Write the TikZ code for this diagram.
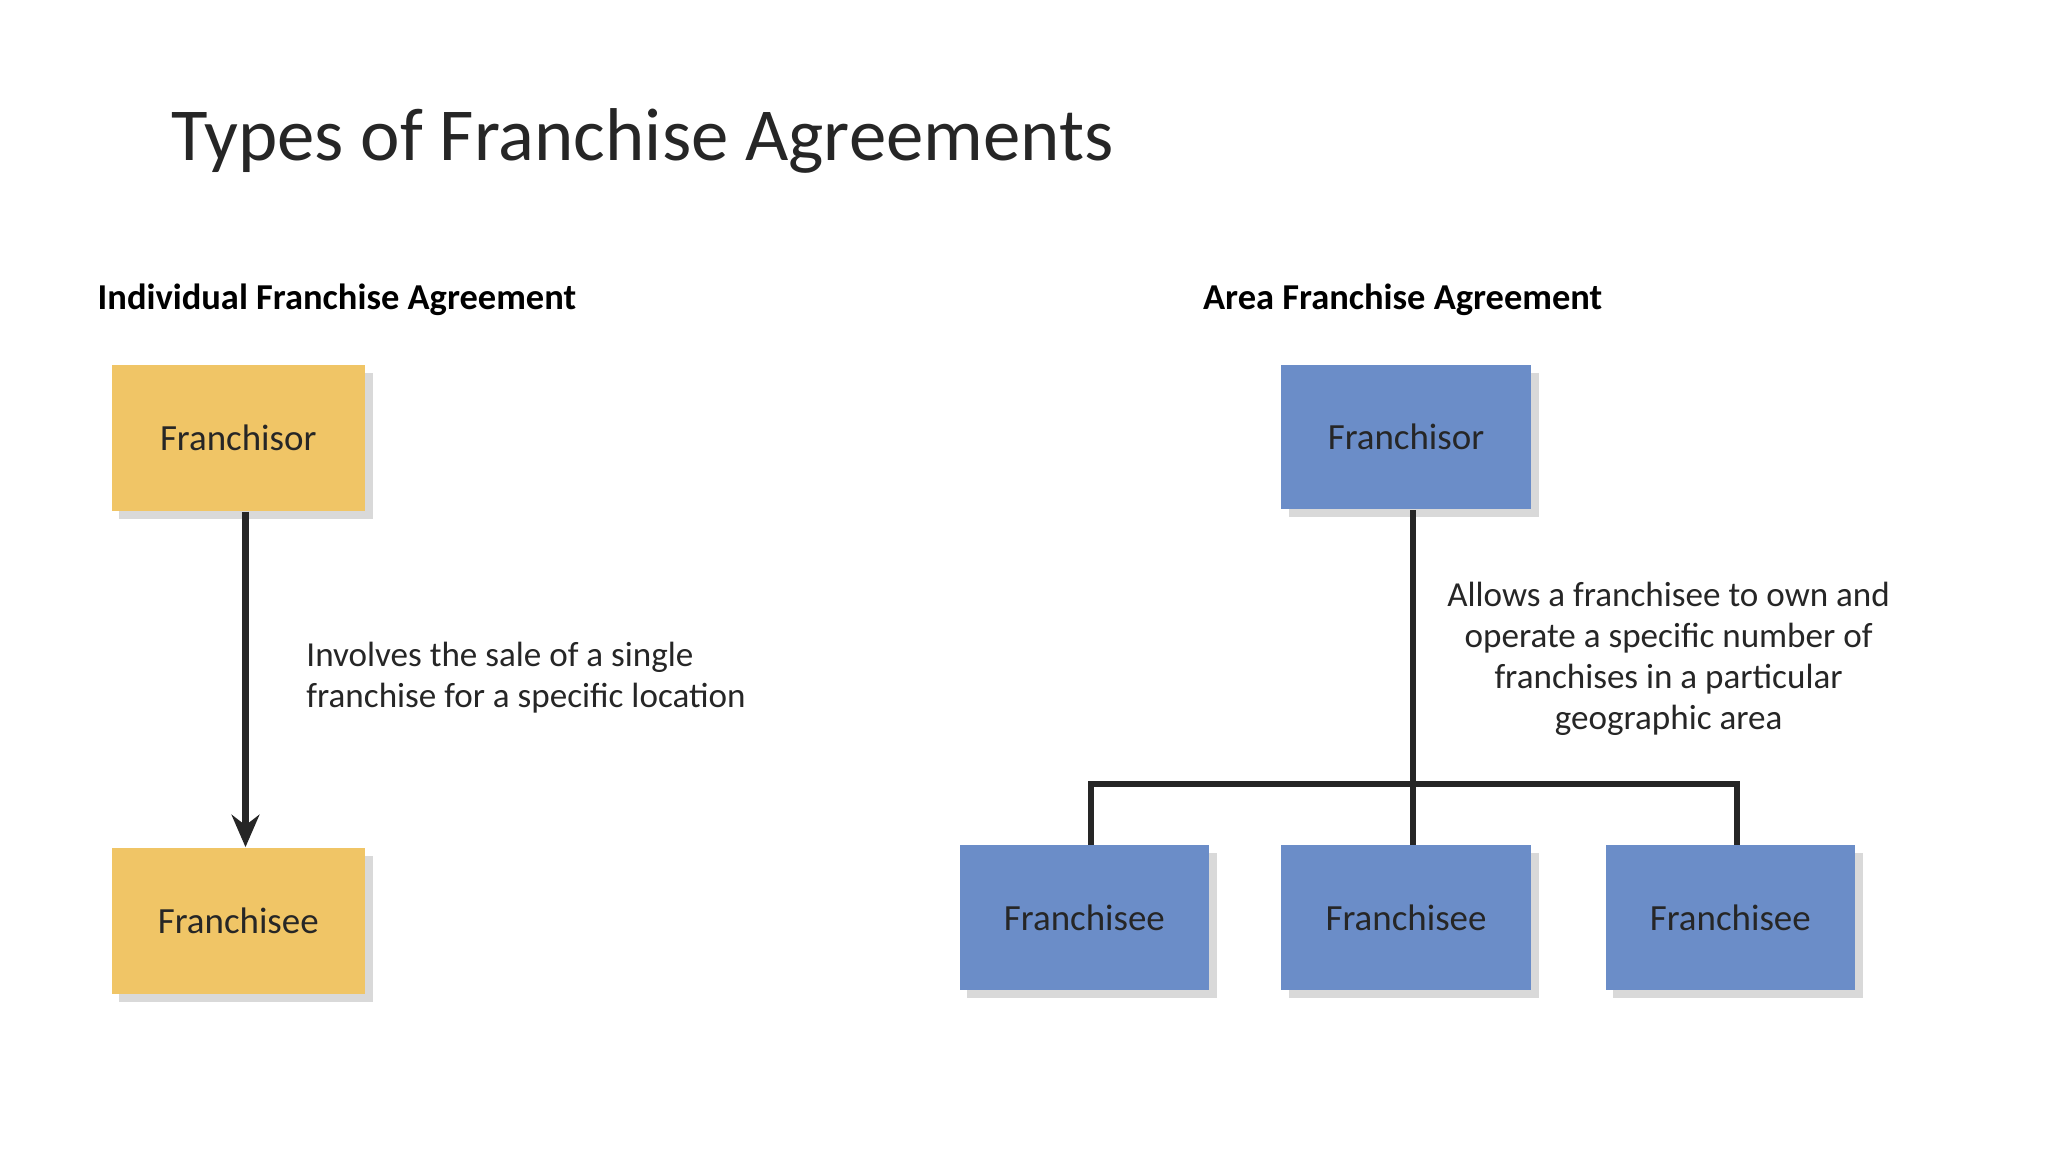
\documentclass[tikz,border=0pt]{standalone}
\usepackage{fontspec}
\setmainfont{Carlito}
\usetikzlibrary{arrows.meta}
\definecolor{gold}{HTML}{F0C566}
\definecolor{blu}{HTML}{6B8DC8}
\tikzset{
  px/.style={x=0.01cm,y=-0.01cm},
  boxy/.style={minimum width=1.93cm,minimum height=1.11cm,inner sep=0pt,font=\fontsize{8}{10}\selectfont,text=black!85,
    preaction={fill=black!15,transform canvas={xshift=0.06cm,yshift=-0.06cm}}},
  ybox/.style={boxy,fill=gold},
  bbox/.style={boxy,fill=blu,minimum width=1.9cm,minimum height=1.1cm},
  conn/.style={line width=1.3pt,black!85},
  note/.style={font=\fontsize{7.6}{8.9}\selectfont,text=black!85}
}
\begin{document}
\begin{tikzpicture}[px]
\useasboundingbox (0,0) rectangle (1560,877.5);
\node[anchor=base west,font=\fontsize{16.2}{20}\selectfont,text=black!85] (title) at (118,122) {Types of Franchise Agreements};
\node[anchor=base west,font=\bfseries\fontsize{7.9}{10}\selectfont] (h1) at (62,236) {Individual Franchise Agreement};
\node[anchor=base west,font=\bfseries\fontsize{7.9}{10}\selectfont] (h2) at (904,236) {Area Franchise Agreement};
\node[ybox] (lf) at (181.5,333.5) {Franchisor};
\node[ybox] (le) at (181.5,701.5) {Franchisee};
\draw[conn,-{Stealth[length=7pt,width=6pt]}] (lf.south -| 187,0) -- (le.north -| 187,0);
\node[note,anchor=west,align=left] (lt) at (221,516) {Involves the sale of a single\\franchise for a specific location};
\node[bbox] (rf) at (1071,333) {Franchisor};
\node[bbox] (r1) at (826,699) {Franchisee};
\node[bbox] (r2) at (1071,699) {Franchisee};
\node[bbox] (r3) at (1318,699) {Franchisee};
\coordinate (j) at (1076,597);
\draw[conn] (rf.south -| j) -- (r2.north -| j);
\draw[conn] (r1.north -| 831,0) |- (j) -| (r3.north -| 1323,0);
\node[note,align=center] (rt) at (1271,502) {Allows a franchisee to own and\\operate a specific number of\\franchises in a particular\\geographic area};
\end{tikzpicture}
\end{document}
